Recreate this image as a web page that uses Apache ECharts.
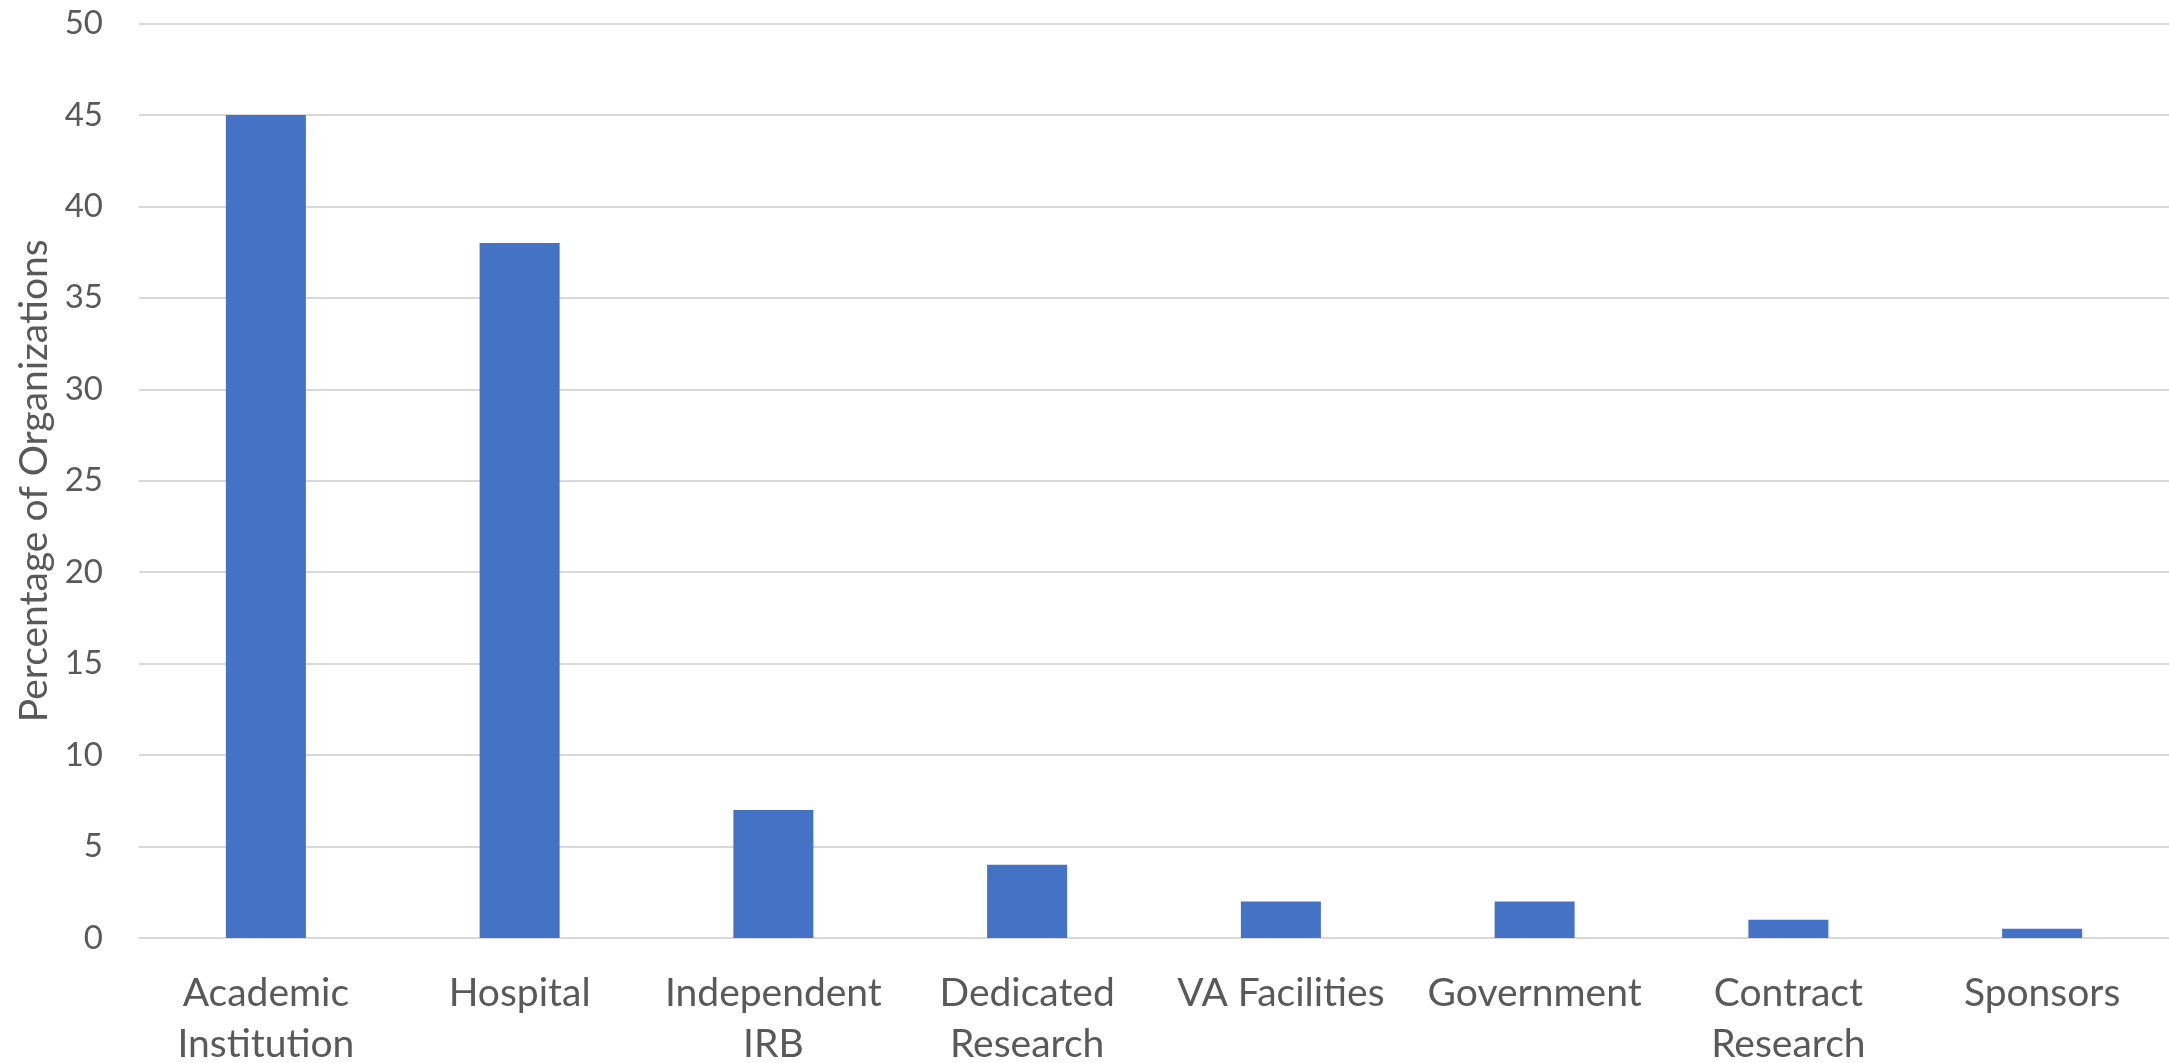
<!DOCTYPE html>
<html><head><meta charset="utf-8">
<script src="https://cdn.jsdelivr.net/npm/echarts@6/dist/echarts.min.js"></script>
<style>html,body{margin:0;padding:0;background:#fff}#c{width:2169px;height:1063px}</style>
</head><body><div id="c"></div>
<script>
const categories = ["Academic\nInstitution", "Hospital", "Independent\nIRB", "Dedicated\nResearch", "VA Facilities", "Government", "Contract\nResearch", "Sponsors"];
const values = [45, 38, 7, 4, 2, 2, 1, 0.5];
const yTicks = [0, 50, 5];
const yName = "Percentage of Organizations";

const chart = echarts.init(document.getElementById('c'));
const font = "Lato, 'Noto Sans', sans-serif";
chart.setOption({
  animation: false,
  grid: { left: 139, right: 0, top: 23.5, bottom: 1063 - 938, containLabel: false, outerBoundsMode: 'none' },
  xAxis: {
    type: 'category', data: categories,
    axisLine: { lineStyle: { color: '#d9d9d9', width: 2 } },
    axisTick: { show: false },
    axisLabel: { color: '#595959', fontSize: 39, fontFamily: font, margin: 30, lineHeight: 51, interval: 0 }
  },
  yAxis: {
    type: 'value', min: yTicks[0], max: yTicks[1], interval: yTicks[2],
    name: yName, nameLocation: 'middle', nameGap: 82,
    nameTextStyle: { color: '#595959', fontSize: 39, fontFamily: font },
    axisLine: { show: false }, axisTick: { show: false },
    axisLabel: { color: '#595959', fontSize: 33, fontFamily: font, margin: 36 },
    splitLine: { lineStyle: { color: '#d9d9d9', width: 2 } }
  },
  series: [{
    type: 'bar', data: values, barWidth: 80,
    itemStyle: { color: '#4472C4' }
  }]
});
</script></body></html>
